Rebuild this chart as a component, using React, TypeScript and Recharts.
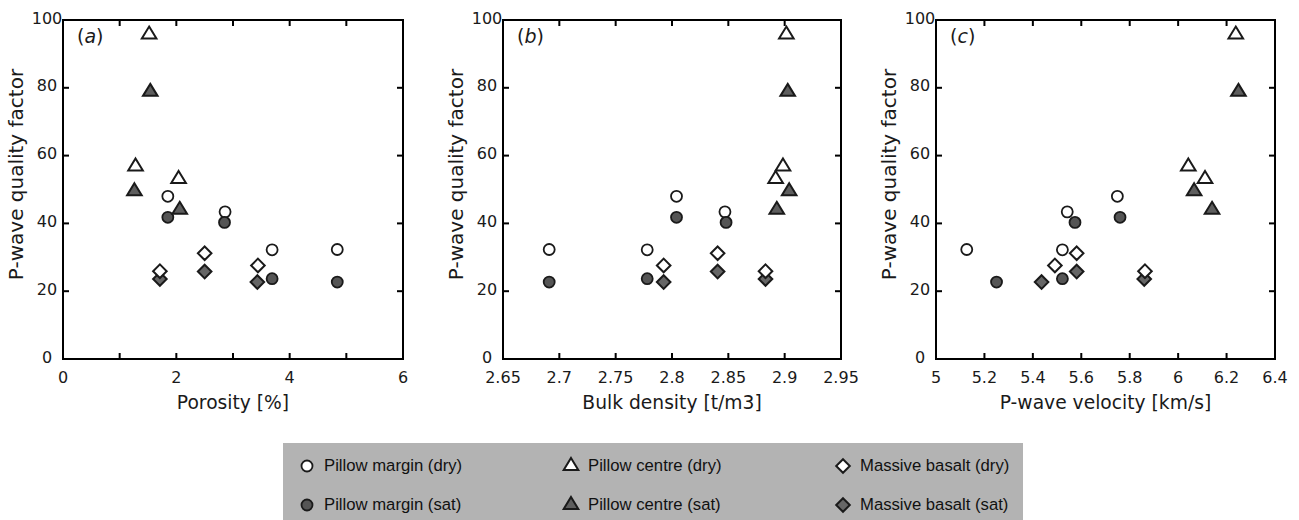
import React from 'react';
import { ScatterChart, Scatter, XAxis, YAxis, ReferenceArea } from 'recharts';

// tick values
const qTicks = [0, 20, 40, 60, 80, 100];
const porosityTicks = [0, 1, 2, 3, 4, 5, 6];
const porosityLabels = [0, 2, 4, 6];
const densityTicks = [2.65, 2.7, 2.75, 2.8, 2.85, 2.9, 2.95];
const velocityTicks = [5, 5.2, 5.4, 5.6, 5.8, 6, 6.2, 6.4];

// samples: porosity [%], bulk density [t/m3], vp [km/s], Q
const marginDry = [
  { phi: 1.85, rho: 2.804, vp: 5.749, q: 48.0 },
  { phi: 2.86, rho: 2.847, vp: 5.542, q: 43.4 },
  { phi: 3.69, rho: 2.778, vp: 5.522, q: 32.2 },
  { phi: 4.84, rho: 2.691, vp: 5.127, q: 32.3 },
];
const marginSat = [
  { phi: 1.85, rho: 2.804, vp: 5.76, q: 41.8 },
  { phi: 2.85, rho: 2.848, vp: 5.574, q: 40.3 },
  { phi: 3.69, rho: 2.778, vp: 5.522, q: 23.7 },
  { phi: 4.84, rho: 2.691, vp: 5.25, q: 22.7 },
];
const centreDry = [
  { phi: 1.52, rho: 2.9015, vp: 6.238, q: 95.7 },
  { phi: 1.28, rho: 2.8985, vp: 6.042, q: 56.8 },
  { phi: 2.04, rho: 2.892, vp: 6.111, q: 53.1 },
];
const centreSat = [
  { phi: 1.54, rho: 2.9027, vp: 6.249, q: 78.8 },
  { phi: 1.26, rho: 2.904, vp: 6.066, q: 49.5 },
  { phi: 2.06, rho: 2.893, vp: 6.14, q: 44.0 },
];
const massiveDry = [
  { phi: 1.71, rho: 2.883, vp: 5.863, q: 25.9 },
  { phi: 2.5, rho: 2.8405, vp: 5.581, q: 31.2 },
  { phi: 3.44, rho: 2.7926, vp: 5.491, q: 27.6 },
];
const massiveSat = [
  { phi: 1.71, rho: 2.883, vp: 5.86, q: 23.6 },
  { phi: 2.5, rho: 2.8405, vp: 5.581, q: 25.8 },
  { phi: 3.43, rho: 2.7926, vp: 5.436, q: 22.7 },
];

const INK = '#000000';
const NUM_FONT = '"DejaVu Sans", sans-serif';
const PLOT_TOP = 20;
const PLOT_BOTTOM = 359;
const PLOT_H = PLOT_BOTTOM - PLOT_TOP;

type Kind = 'circle' | 'triangle' | 'diamond';

const series: { name: string; data: any[]; kind: Kind; fill: string }[] = [
  { name: 'Pillow margin (dry)', data: marginDry, kind: 'circle', fill: '#ffffff' },
  { name: 'Pillow margin (sat)', data: marginSat, kind: 'circle', fill: '#555555' },
  { name: 'Pillow centre (dry)', data: centreDry, kind: 'triangle', fill: '#ffffff' },
  { name: 'Pillow centre (sat)', data: centreSat, kind: 'triangle', fill: '#5e5e5e' },
  { name: 'Massive basalt (dry)', data: massiveDry, kind: 'diamond', fill: '#ffffff' },
  { name: 'Massive basalt (sat)', data: massiveSat, kind: 'diamond', fill: '#666666' },
];
// dry diamonds sit on top of the saturated ones
const drawOrder = [0, 1, 2, 3, 5, 4];

const Marker = ({ cx, cy, kind, fill }: { cx: number; cy: number; kind: Kind; fill: string }) => {
  if (cx == null || cy == null) return null;
  if (kind === 'circle') {
    return <circle cx={cx} cy={cy} r={5.5} fill={fill} stroke="#1a1a1a" strokeWidth={1.8} />;
  }
  if (kind === 'triangle') {
    const h = 12;
    const w = 7.3;
    return (
      <path
        d={`M${cx},${cy - (2 * h) / 3} L${cx + w},${cy + h / 3} L${cx - w},${cy + h / 3} Z`}
        fill={fill}
        stroke="#1a1a1a"
        strokeWidth={2}
      />
    );
  }
  const d = 6.8;
  return (
    <path
      d={`M${cx},${cy - d} L${cx + d},${cy} L${cx},${cy + d} L${cx - d},${cy} Z`}
      fill={fill}
      stroke="#1a1a1a"
      strokeWidth={2}
    />
  );
};

const XTick = (props: any) => {
  const { x, y, payload, labelTicks } = props;
  const v = payload.value;
  const show = !labelTicks || labelTicks.includes(v);
  return (
    <g>
      <rect x={x - 1} y={y - 6} width={2} height={6} fill={INK} />
      <rect x={x - 1} y={y - PLOT_H} width={2} height={6} fill={INK} />
      {show && (
        <text x={x} y={y + 24} textAnchor="middle" fontFamily={NUM_FONT} fontSize={16} fill="#1a1a1a">
          {String(v)}
        </text>
      )}
    </g>
  );
};

const YTick = (props: any) => {
  const { x, y, payload, plotW } = props;
  return (
    <g>
      <rect x={x} y={y - 1} width={6} height={2} fill={INK} />
      <rect x={x + plotW - 6} y={y - 1} width={6} height={2} fill={INK} />
      <text x={x - 16} y={y + 3.5} textAnchor="middle" fontFamily={NUM_FONT} fontSize={16} fill="#1a1a1a">
        {String(payload.value)}
      </text>
    </g>
  );
};

interface PanelProps {
  left: number;
  width: number;
  plotLeft: number;
  plotRight: number;
  xKey: string;
  domain: [number, number];
  ticks: number[];
  labelTicks?: number[];
  title: string;
  tag: string;
}

const Panel: React.FC<PanelProps> = ({ left, width, plotLeft, plotRight, xKey, domain, ticks, labelTicks, title, tag }) => {
  const chartH = 430;
  const yAxisW = plotLeft - left;
  const plotW = plotRight - plotLeft;
  return (
    <div style={{ position: 'absolute', left, top: 0 }}>
      <ScatterChart
        width={width}
        height={chartH}
        margin={{ top: PLOT_TOP, right: left + width - plotRight, bottom: chartH - PLOT_BOTTOM - 60, left: 0 }}
      >
        <XAxis
          type="number"
          dataKey={xKey}
          domain={domain}
          ticks={ticks}
          interval={0}
          allowDataOverflow
          height={60}
          tickSize={0}
          tickMargin={0}
          axisLine={{ stroke: INK, strokeWidth: 2 }}
          tick={(p: any) => <XTick {...p} labelTicks={labelTicks} />}
          label={{
            content: ({ viewBox }: any) => (
              <text
                x={viewBox.x + viewBox.width / 2}
                y={viewBox.y + 50}
                textAnchor="middle"
                fontFamily={NUM_FONT}
                fontSize={18.7}
                fill="#1a1a1a"
              >
                {title}
              </text>
            ),
          }}
        />
        <YAxis
          type="number"
          dataKey="q"
          domain={[0, 100]}
          ticks={qTicks}
          interval={0}
          allowDataOverflow
          width={yAxisW}
          tickSize={0}
          tickMargin={0}
          axisLine={{ stroke: INK, strokeWidth: 2 }}
          tick={(p: any) => <YTick {...p} plotW={plotW} />}
          label={{
            content: ({ viewBox }: any) => {
              const bx = viewBox.x + viewBox.width - 40;
              const by = viewBox.y + viewBox.height / 2 - 15;
              return (
                <text
                  x={bx}
                  y={by}
                  transform={`rotate(-90, ${bx}, ${by})`}
                  textAnchor="middle"
                  fontFamily={NUM_FONT}
                  fontSize={20}
                  fill="#1a1a1a"
                >
                  P-wave quality factor
                </text>
              );
            },
          }}
        />
        <ReferenceArea
          x1={domain[0]}
          x2={domain[1]}
          y1={0}
          y2={100}
          fill="none"
          stroke={INK}
          strokeWidth={2}
          ifOverflow="visible"
          label={{
            content: ({ viewBox }: any) => (
              <text x={viewBox.x + 14} y={viewBox.y + 23} fontFamily={NUM_FONT} fontSize={19} fill="#1a1a1a">
                <tspan>(</tspan>
                <tspan fontStyle="italic">{tag}</tspan>
                <tspan>)</tspan>
              </text>
            ),
          }}
        />
        {drawOrder.map((i) => {
          const s = series[i];
          return (
            <Scatter
              key={s.name}
              name={s.name}
              data={s.data}
              isAnimationActive={false}
              shape={(p: any) => <Marker cx={p.cx} cy={p.cy} kind={s.kind} fill={s.fill} />}
            />
          );
        })}
      </ScatterChart>
      {/* plot frame, drawn again on top so the box always closes */}
      <div
        style={{
          position: 'absolute',
          left: plotLeft - left - 1,
          top: PLOT_TOP - 1,
          width: plotW + 2,
          height: PLOT_H + 2,
          border: '2px solid #000',
          boxSizing: 'border-box',
          pointerEvents: 'none',
        }}
      />
    </div>
  );
};

const LegendBox = () => {
  const colX = [24, 288, 560];
  const rowY = [23, 62];
  return (
    <div
      style={{
        position: 'absolute',
        left: 283,
        top: 443,
        width: 740,
        height: 77,
        background: '#b3b3b3',
        zIndex: 2,
      }}
    >
      {series.map((s, i) => {
        const col = Math.floor(i / 2);
        const row = i % 2;
        return (
          <div key={s.name}>
            <svg
              width={20}
              height={20}
              style={{ position: 'absolute', left: colX[col] - 10, top: rowY[row] - 10 }}
            >
              <Marker cx={10} cy={10} kind={s.kind} fill={s.fill} />
            </svg>
            <span
              style={{
                position: 'absolute',
                left: colX[col] + 17,
                top: rowY[row] - 11,
                lineHeight: '22px',
                fontFamily: '"Liberation Sans", Arial, sans-serif',
                fontSize: 16.7,
                color: '#111',
                whiteSpace: 'nowrap',
              }}
            >
              {s.name}
            </span>
          </div>
        );
      })}
    </div>
  );
};

export default function App() {
  return (
    <div style={{ position: 'absolute', left: 0, top: 0, width: 1299, height: 520, background: '#fff', overflow: 'hidden' }}>
      <Panel
        left={0}
        width={430}
        plotLeft={63}
        plotRight={403}
        xKey="phi"
        domain={[0, 6]}
        ticks={porosityTicks}
        labelTicks={porosityLabels}
        title="Porosity [%]"
        tag="a"
      />
      <Panel
        left={440}
        width={430}
        plotLeft={503}
        plotRight={841}
        xKey="rho"
        domain={[2.65, 2.95]}
        ticks={densityTicks}
        title="Bulk density [t/m3]"
        tag="b"
      />
      <Panel
        left={873}
        width={426}
        plotLeft={936}
        plotRight={1275}
        xKey="vp"
        domain={[5, 6.4]}
        ticks={velocityTicks}
        title="P-wave velocity [km/s]"
        tag="c"
      />
      <LegendBox />
    </div>
  );
}
